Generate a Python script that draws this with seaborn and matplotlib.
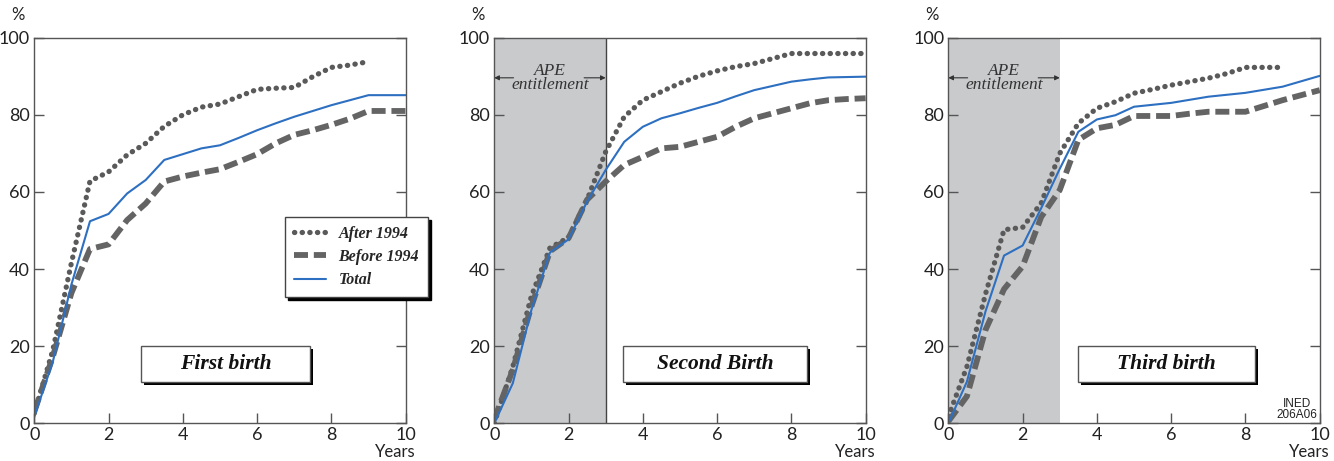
import numpy as np
import pandas as pd
import seaborn as sns
import matplotlib.pyplot as plt
from matplotlib.patches import Rectangle

# half-year grid, years since previous birth
years = [0, 0.5, 1, 1.5, 2, 2.5, 3, 3.5, 4, 4.5, 5,
         5.5, 6, 6.5, 7, 7.5, 8, 8.5, 9, 9.5, 10]

# first birth (%)
first_after = [2.6, 19, 41.6, 62.8, 65.2, 69.6, 72.6, 77, 80, 82, 82.8,
               84.7, 86.6, 86.9, 87.1, 89.9, 92.3, 92.9, 93.8]
first_before = [3, 17.3, 33.8, 45.2, 46.4, 52.7, 57, 62.7, 64, 65, 65.9,
                67.8, 69.8, 72.6, 74.8, 76, 77.4, 79, 81, 81, 81]
first_total = [1.7, 16, 36, 52.4, 54.3, 59.6, 63.1, 68.3, 69.8, 71.3, 72.1,
               74, 76, 77.8, 79.5, 81, 82.5, 83.8, 85.1, 85.1, 85.1]

# second birth (%)
second_after = [0, 14.7, 33, 45.5, 48.2, 58, 70.4, 79.5, 83.8, 86, 88.2,
                90, 91.4, 92.5, 93.3, 94.6, 95.9, 95.9, 95.9, 95.9, 95.9]
second_before = [1, 13.9, 30.3, 44.6, 48, 58, 62.7, 67, 69.1, 71.3, 71.7,
                 73, 74.3, 76.9, 79.1, 80.4, 81.7, 83, 83.8, 84.1, 84.3]
second_total = [0, 10.4, 29.4, 44.3, 47.7, 57.5, 65.7, 73, 76.9, 79.1, 80.4,
                81.8, 83.1, 84.8, 86.4, 87.5, 88.6, 89.2, 89.7, 89.8, 89.9]

# third birth (%)
third_after = [1.7, 14.7, 33.5, 50.2, 50.8, 57.1, 70, 77.8, 81.7, 83.4, 85.6,
               86.6, 87.7, 88.6, 89.5, 90.7, 92.3, 92.3, 92.3]
third_before = [0.5, 7, 24.2, 34.8, 40.7, 53.5, 60.5, 73.5, 76.5, 77.4, 79.7,
                79.7, 79.7, 80.3, 80.8, 80.8, 80.8, 82.3, 83.8, 85.1, 86.4]
third_total = [0, 10.8, 29, 43.5, 46.1, 55.8, 66, 75.6, 78.8, 79.9, 82.1,
               82.6, 83.1, 83.9, 84.7, 85.2, 85.7, 86.5, 87.3, 88.7, 90.1]

series_labels = ["After 1994", "Before 1994", "Total"]
panel_titles = ["First birth", "Second Birth", "Third birth"]
panels = [
    (first_after, first_before, first_total),
    (second_after, second_before, second_total),
    (third_after, third_before, third_total),
]

styles = {
    "After 1994": dict(color="#5a5a5a", linewidth=3.8,
                       linestyle=(0, (0.05, 1.4)), dash_capstyle="round"),
    "Before 1994": dict(color="#646464", linewidth=4.2,
                        linestyle=(0, (2.4, 1.0)), dash_capstyle="butt"),
    "Total": dict(color="#2d6fc0", linewidth=1.5),
}

sns.set_theme(style="ticks")
plt.rcParams["font.family"] = ["Lato", "DejaVu Sans"]

fig = plt.figure(figsize=(13.34, 4.61), dpi=100)
lefts = [0.0257, 0.3705, 0.7109]
box_x = [(0.287, 0.742), (0.3465, 0.842), (0.349, 0.826)]
serif_bi = dict(family="Liberation Serif", style="italic", weight="bold")
ape_y = 89.6

for i, (vals, title) in enumerate(zip(panels, panel_titles)):
    ax = fig.add_axes([lefts[i], 0.0818, 0.2784, 0.8364])
    ax.set_facecolor("white")

    if i > 0:
        ax.axvspan(0, 3, color="#c9cacc", lw=0, zorder=0)
        if i == 1:
            ax.axvline(3, color="#444444", lw=1, zorder=1)
        ax.annotate("", xy=(0, ape_y), xytext=(0.52, ape_y),
                    arrowprops=dict(arrowstyle="-|>", color="#333333", lw=0.8,
                                    mutation_scale=7, shrinkA=0, shrinkB=0))
        ax.annotate("", xy=(3, ape_y), xytext=(2.42, ape_y),
                    arrowprops=dict(arrowstyle="-|>", color="#333333", lw=0.8,
                                    mutation_scale=7, shrinkA=0, shrinkB=0))
        ax.text(1.5, ape_y, "APE\nentitlement", ha="center", va="center",
                family="Liberation Serif", style="italic", size=12.5,
                linespacing=0.85, color="#333333")

    handles = []
    for label, v in zip(series_labels, vals):
        df = pd.DataFrame({"Years": years[:len(v)], "Pct": v})
        sns.lineplot(data=df, x="Years", y="Pct", ax=ax,
                     legend=False, **styles[label])
        handles.append(ax.lines[-1])

    ax.set_xlim(0, 10)
    ax.set_ylim(0, 100)
    ax.set_xticks(range(0, 11, 2))
    ax.set_yticks(range(0, 101, 20))
    ax.set_xlabel("")
    ax.set_ylabel("")
    for sp in ax.spines.values():
        sp.set_visible(True)
        sp.set_color("#555555")
        sp.set_linewidth(1)
    ax.tick_params(direction="in", length=7.5, width=1, color="#555555",
                   right=True, top=False, labelsize=13, labelcolor="#222222",
                   pad=3)

    ax.text(-0.043, 1.059, "%", transform=ax.transAxes, ha="center",
            va="center", size=12, color="#222222")
    ax.text(0.971, -0.074, "Years", transform=ax.transAxes, ha="center",
            va="center", size=12, color="#222222")

    # title box with drop shadow
    x0, x1 = box_x[i]
    y0, y1 = 0.107, 0.2
    ax.add_patch(Rectangle((x0 + 0.008, y0 - 0.008), x1 - x0, y1 - y0,
                           transform=ax.transAxes, facecolor="black",
                           edgecolor="none", zorder=5))
    ax.add_patch(Rectangle((x0, y0), x1 - x0, y1 - y0, transform=ax.transAxes,
                           facecolor="white", edgecolor="#555555", lw=1,
                           zorder=6))
    ax.text((x0 + x1) / 2, (y0 + y1) / 2, title, transform=ax.transAxes,
            ha="center", va="center", size=15.5, color="#111111", zorder=7,
            **serif_bi)

    if i == 0:
        leg = ax.legend(handles, series_labels, loc="upper left",
                        bbox_to_anchor=(0.675, 0.535), borderaxespad=0,
                        frameon=True, fancybox=False, framealpha=1,
                        edgecolor="#444444",
                        shadow={"color": "black", "alpha": 1},
                        prop=dict(size=11.5, **serif_bi), handlelength=2.0,
                        labelspacing=0.45, borderpad=0.55)
        leg.get_frame().set_linewidth(1)
    if i == 2:
        ax.text(0.993, 0.005, "INED\n206A06", transform=ax.transAxes,
                ha="right", va="bottom", multialignment="center",
                family="Liberation Sans", size=8.5, linespacing=0.9,
                color="#222222")

fig.savefig("out.png", dpi=100)
